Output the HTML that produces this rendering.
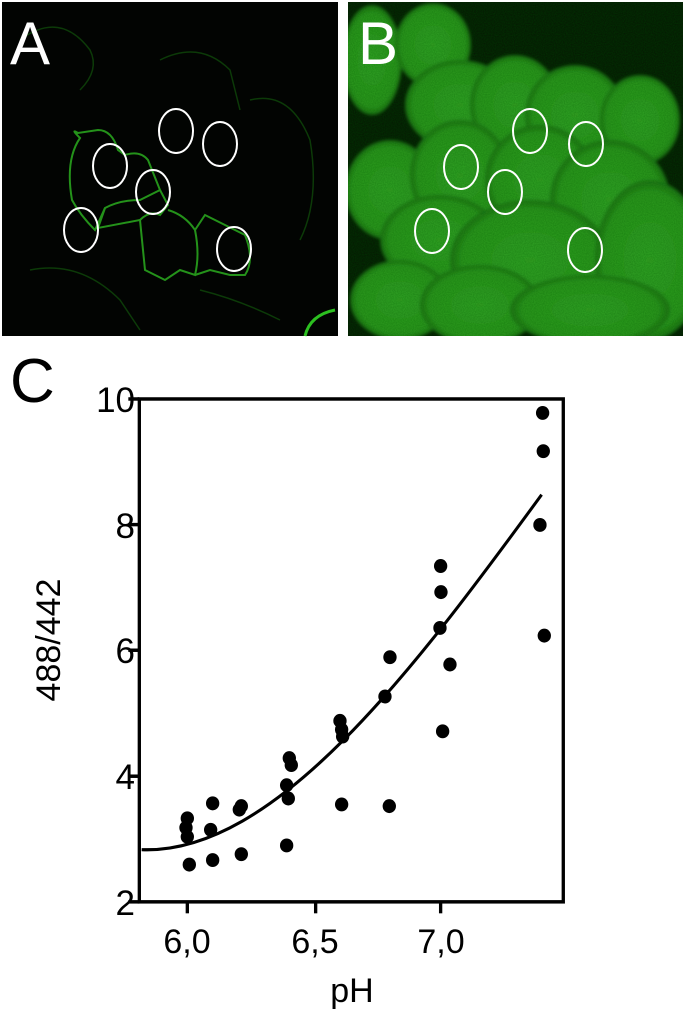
<!DOCTYPE html>
<html><head><meta charset="utf-8"><style>
html,body{margin:0;padding:0;background:#fff;}
body{width:685px;height:1025px;position:relative;overflow:hidden;font-family:"Liberation Sans",sans-serif;}
</style></head><body>
<svg width="685" height="1025" viewBox="0 0 685 1025" style="position:absolute;left:0;top:0">
<defs>
<radialGradient id="cell" cx="50%" cy="50%" r="50%">
<stop offset="0" stop-color="#30a024"/><stop offset="0.85" stop-color="#2a951c"/><stop offset="1" stop-color="#1c7012"/>
</radialGradient>
<filter id="blur"><feGaussianBlur stdDeviation="1.5"/></filter>
<filter id="noise" x="0" y="0" width="100%" height="100%">
<feTurbulence type="fractalNoise" baseFrequency="0.9" numOctaves="1" seed="3"/>
<feColorMatrix values="0 0 0 0 0  0 0 0 0 0.1  0 0 0 0 0  0 0 0 0.5 -0.1"/>
</filter>
</defs>
<!-- Panel A -->
<rect x="2" y="2" width="336" height="334" fill="#020402"/>
<g fill="none" stroke="#24921a" stroke-width="2">
<path d="M80 138 Q70 128 78 133 L98 130 Q112 130 118 150 L125 155 Q140 150 148 160 L160 190 L140 200 Q120 200 105 208 L95 230 Q80 215 72 200 Q65 160 80 138Z"/>
<path d="M105 208 L98 228 L140 220 Q150 210 160 215 L168 205 L160 190"/>
<path d="M140 220 L145 270 L165 280 L180 270 L195 275 Q200 255 195 230 Q185 215 168 210"/>
<path d="M195 230 L205 215 L225 225 L245 235 Q255 260 245 275 L230 275 L210 270 L195 275"/>
<path d="M305 336 Q310 315 335 310" stroke="#2cc020" stroke-width="3"/>
</g>
<g fill="none" stroke="#0c3a08" stroke-width="1.5">
<path d="M20 40 Q60 10 90 50 Q100 70 80 90"/><path d="M160 60 Q200 40 230 70 L240 110"/>
<path d="M250 100 Q290 90 310 140 Q320 200 300 240"/><path d="M30 270 Q80 260 120 300 L140 330"/>
<path d="M200 290 Q240 300 280 320"/>
</g>
<g fill="none" stroke="#fff" stroke-width="2">
<ellipse cx="110" cy="166" rx="17" ry="22"/>
<ellipse cx="176" cy="131" rx="17" ry="22"/>
<ellipse cx="220" cy="144" rx="17" ry="22"/>
<ellipse cx="153" cy="192" rx="17" ry="22"/>
<ellipse cx="81" cy="230" rx="17" ry="22"/>
<ellipse cx="234" cy="249" rx="17" ry="22"/>
</g>
<text x="10" y="64" font-size="60" fill="#fff" font-family="Liberation Sans, sans-serif">A</text>
<!-- Panel B -->
<svg x="348" y="2" width="335" height="334" viewBox="348 2 335 334">
<rect x="348" y="2" width="335" height="334" fill="#041a02"/>
<g fill="url(#cell)" filter="url(#blur)">
<ellipse cx="372" cy="60" rx="30" ry="55"/>
<ellipse cx="433" cy="45" rx="38" ry="42"/>
<ellipse cx="460" cy="105" rx="55" ry="45"/>
<ellipse cx="515" cy="105" rx="45" ry="50"/>
<ellipse cx="575" cy="115" rx="50" ry="50"/>
<ellipse cx="640" cy="120" rx="40" ry="45"/>
<ellipse cx="390" cy="190" rx="45" ry="50"/>
<ellipse cx="460" cy="175" rx="50" ry="55"/>
<ellipse cx="540" cy="180" rx="55" ry="55"/>
<ellipse cx="610" cy="200" rx="60" ry="60"/>
<ellipse cx="440" cy="240" rx="60" ry="45"/>
<ellipse cx="530" cy="260" rx="80" ry="60"/>
<ellipse cx="650" cy="260" rx="55" ry="80"/>
<ellipse cx="400" cy="300" rx="50" ry="40"/>
<ellipse cx="480" cy="305" rx="60" ry="40"/>
<ellipse cx="590" cy="310" rx="80" ry="35"/>
</g>
<rect x="348" y="2" width="335" height="334" filter="url(#noise)"/>
</svg>
<g fill="none" stroke="#fff" stroke-width="2">
<ellipse cx="530" cy="131" rx="17" ry="22"/>
<ellipse cx="461" cy="167" rx="17" ry="22"/>
<ellipse cx="586" cy="144" rx="17" ry="22"/>
<ellipse cx="505" cy="192" rx="17" ry="22"/>
<ellipse cx="432" cy="231" rx="17" ry="22"/>
<ellipse cx="585" cy="250" rx="17" ry="22"/>
</g>
<text x="358" y="64" font-size="60" fill="#fff" font-family="Liberation Sans, sans-serif">B</text>
<!-- Chart -->
<g transform="translate(80,378.1) scale(0.3333,0.348)">
<rect x="178" y="60" width="1272" height="1445" fill="none" stroke="#000" stroke-width="10"/>
<g stroke="#000" stroke-width="10">
<line x1="145" y1="60" x2="178" y2="60"/><line x1="145" y1="421" x2="178" y2="421"/>
<line x1="145" y1="782" x2="178" y2="782"/><line x1="145" y1="1144" x2="178" y2="1144"/>
<line x1="145" y1="1505" x2="178" y2="1505"/>
<line x1="322" y1="1505" x2="322" y2="1538"/><line x1="707" y1="1505" x2="707" y2="1538"/>
<line x1="1082" y1="1505" x2="1082" y2="1538"/>
</g>
<path d="M185 1355 C585 1370 1000 840 1385 335" fill="none" stroke="#000" stroke-width="9"/>
<g fill="#000">
<circle cx="322" cy="1265" r="20"/><circle cx="318" cy="1292" r="20"/><circle cx="322" cy="1318" r="20"/><circle cx="328" cy="1398" r="20"/>
<circle cx="398" cy="1222" r="20"/><circle cx="392" cy="1298" r="20"/><circle cx="398" cy="1385" r="20"/>
<circle cx="478" cy="1240" r="20"/><circle cx="484" cy="1230" r="20"/><circle cx="484" cy="1368" r="20"/>
<circle cx="628" cy="1092" r="20"/><circle cx="634" cy="1112" r="20"/><circle cx="620" cy="1170" r="20"/><circle cx="625" cy="1208" r="20"/><circle cx="620" cy="1343" r="20"/>
<circle cx="780" cy="985" r="20"/><circle cx="785" cy="1010" r="20"/><circle cx="788" cy="1030" r="20"/><circle cx="785" cy="1225" r="20"/>
<circle cx="915" cy="915" r="20"/><circle cx="930" cy="802" r="20"/><circle cx="928" cy="1230" r="20"/>
<circle cx="1082" cy="540" r="20"/><circle cx="1083" cy="615" r="20"/><circle cx="1080" cy="718" r="20"/><circle cx="1110" cy="823" r="20"/><circle cx="1088" cy="1015" r="20"/>
<circle cx="1388" cy="100" r="20"/><circle cx="1390" cy="210" r="20"/><circle cx="1380" cy="422" r="20"/><circle cx="1393" cy="740" r="20"/>
</g>
</g>
<g font-size="35" fill="#000" text-anchor="end" font-family="Liberation Sans, sans-serif">
<text x="135" y="412">10</text><text x="135" y="538">8</text><text x="135" y="663">6</text>
<text x="135" y="789">4</text><text x="135" y="915">2</text>
</g>
<g font-size="34" fill="#000" text-anchor="middle" font-family="Liberation Sans, sans-serif">
<text x="187" y="953">6,0</text><text x="315" y="953">6,5</text><text x="441" y="953">7,0</text>
<text x="352" y="1002">pH</text>
</g>
<text transform="translate(60,640) rotate(-90)" font-size="34" text-anchor="middle" font-family="Liberation Sans, sans-serif">488/442</text>
<text x="10" y="402" font-size="62" font-family="Liberation Sans, sans-serif">C</text>
</svg>
</body></html>
